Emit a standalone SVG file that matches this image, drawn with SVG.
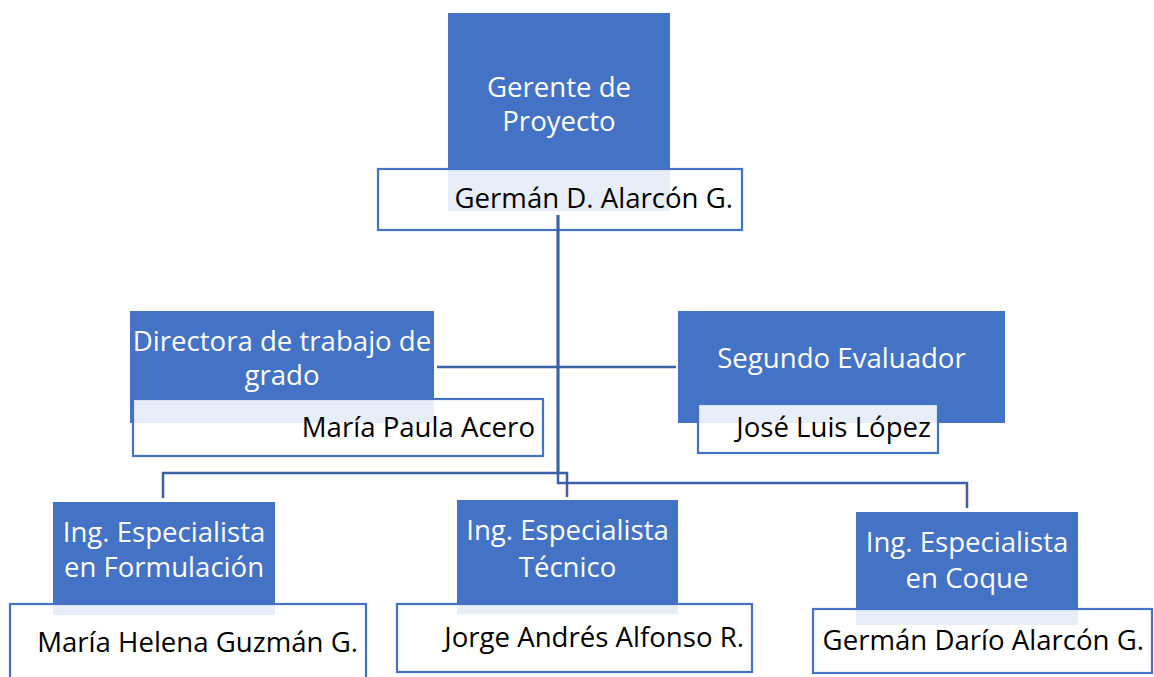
<svg xmlns="http://www.w3.org/2000/svg" width="1154" height="677" viewBox="0 0 1154 677">
<style>
.role{fill:#4472C4}
.name{fill:#ffffff;fill-opacity:0.88;stroke:#4472C4;stroke-width:2.2}
.t{font-family:"Open Sans","Noto Sans",sans-serif;font-size:27.6px}
.w{fill:#ffffff;text-anchor:middle}
.k{fill:#000000;text-anchor:end}
.c{fill:none;stroke:#3A60A6;stroke-width:2.5}
</style>
<rect width="1154" height="677" fill="#ffffff"/>
<g id="gerente">
<rect class="role" x="448" y="13" width="222" height="198"/>
<rect class="name" x="378" y="169" width="364" height="61"/>
<text class="t w" x="559" y="97">Gerente de</text>
<text class="t w" x="559" y="131">Proyecto</text>
<text class="t k" x="733" y="208">Germán D. Alarcón G.</text>
</g>
<g id="directora">
<rect class="role" x="130" y="311" width="304" height="112"/>
<rect class="name" x="133" y="399" width="410" height="57"/>
<text class="t w" x="282" y="351">Directora de trabajo de</text>
<text class="t w" x="282" y="385">grado</text>
<text class="t k" x="535" y="437">María Paula Acero</text>
</g>
<g id="segundo">
<rect class="role" x="678" y="311" width="327" height="112"/>
<rect class="name" x="698" y="404" width="240" height="49"/>
<text class="t w" x="841.5" y="368">Segundo Evaluador</text>
<text class="t k" x="931" y="437">José Luis López</text>
</g>
<g id="formulacion">
<rect class="role" x="53" y="502" width="222" height="113"/>
<rect class="name" x="10" y="604" width="356" height="80"/>
<text class="t w" x="164" y="542">Ing. Especialista</text>
<text class="t w" x="164" y="577">en Formulación</text>
<text class="t k" x="358" y="652">María Helena Guzmán G.</text>
</g>
<g id="tecnico">
<rect class="role" x="457" y="500" width="221" height="114"/>
<rect class="name" x="397" y="604" width="355" height="68"/>
<text class="t w" x="567.5" y="540">Ing. Especialista</text>
<text class="t w" x="567.5" y="577">Técnico</text>
<text class="t k" x="744" y="647">Jorge Andrés Alfonso R.</text>
</g>
<g id="coque">
<rect class="role" x="856" y="512" width="222" height="113"/>
<rect class="name" x="813" y="609" width="339" height="64"/>
<text class="t w" x="967" y="552">Ing. Especialista</text>
<text class="t w" x="967" y="588">en Coque</text>
<text class="t k" x="1144" y="650">Germán Darío Alarcón G.</text>
</g>
<g id="connectors">
<path class="c" d="M558 215 V473 H163 V498"/>
<path class="c" d="M558 215 V473 H567 V497"/>
<path class="c" d="M558 215 V483 H967 V508"/>
<path class="c" d="M437 367 H676"/>
</g>
</svg>
